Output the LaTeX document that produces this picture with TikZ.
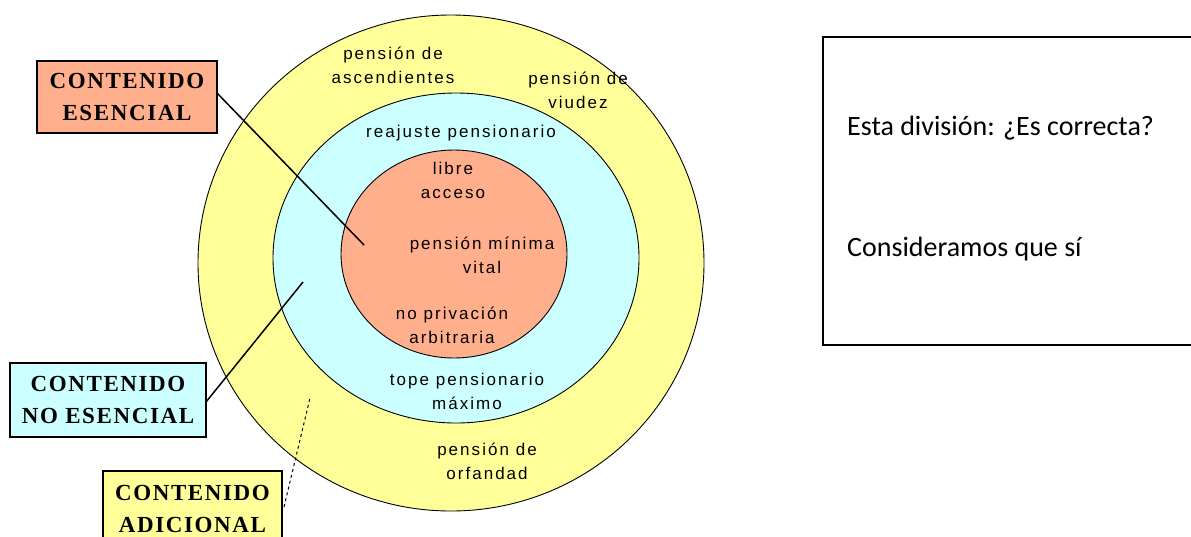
\documentclass[tikz,border=0pt]{standalone}
\usepackage{fontspec}
\setmainfont{Liberation Serif}
\newfontfamily\circfont[LetterSpace=12]{Liberation Sans}
\newfontfamily\boxfont[LetterSpace=7]{Liberation Serif Bold}
\newfontfamily\notefont{Carlito}
\definecolor{salmon}{HTML}{FFAF8C}
\definecolor{lcyan}{HTML}{CCFFFF}
\definecolor{lyellow}{HTML}{FFFF99}
\begin{document}
\begin{tikzpicture}[x=1pt,y=-1pt,
  ring/.style={draw=black,line width=0.9pt},
  lbl/.style={font=\circfont\fontsize{17}{24}\selectfont,inner sep=0pt,align=center},
  cbox/.style={draw=black,line width=1.3pt,inner sep=0pt,align=center,
    font=\boxfont\fontsize{23}{32}\selectfont},
  conn/.style={line width=1.5pt},
  note/.style={font=\notefont\fontsize{28}{34}\selectfont,anchor=base west,inner sep=0pt}]
\useasboundingbox (0,0) rectangle (1191,536);
% rings
\draw[ring,fill=lyellow] (451,263) ellipse [x radius=253pt,y radius=248pt];
\draw[ring,fill=lcyan] (456,258) ellipse [x radius=183pt,y radius=165pt];
\draw[ring,fill=salmon] (454,254) ellipse [x radius=113pt,y radius=104pt];
% ring labels
\node[lbl] (asc) at (393,65) {pensión de\\ascendientes};
\node[lbl] (viu) at (578,90) {pensión de\\viudez};
\node[lbl] (rea) at (461,133) {reajuste pensionario};
\node[lbl] (lib) at (453,180) {libre\\acceso};
\node[lbl] (min) at (482,255) {pensión mínima\\vital};
\node[lbl] (pri) at (452,325) {no privación\\arbitraria};
\node[lbl] (tope) at (467,391) {tope pensionario\\máximo};
\node[lbl] (orf) at (487,461) {pensión de\\orfandad};
% category boxes
\node[cbox,fill=salmon,minimum width=180pt,minimum height=72pt] (ese) at (127,97) {CONTENIDO\\ESENCIAL};
\node[cbox,fill=lcyan,minimum width=196pt,minimum height=74pt] (noe) at (108,400) {CONTENIDO\\NO ESENCIAL};
\node[cbox,fill=lyellow,minimum width=179pt,minimum height=76pt] (adi) at (192.5,509) {CONTENIDO\\ADICIONAL};
% connectors
\coordinate (pE) at (364,245);
\coordinate (pN) at (303,282);
\coordinate (pA) at (310,398);
\coordinate (sE) at (217,93);
\coordinate (sN) at (206,402);
\coordinate (sA) at (284,507);
\draw[conn] (sE) -- (pE);
\draw[conn] (sN) -- (pN);
\draw[line width=1pt,dashed] (sA) -- (pA);
% note box
\draw[line width=1.2pt] (823,37) rectangle (1200,345);
\node[note] (q) at (847,135) {Esta división: ¿Es correcta?};
\node[note] (a) at (847,256) {Consideramos que sí};
\end{tikzpicture}
\end{document}
